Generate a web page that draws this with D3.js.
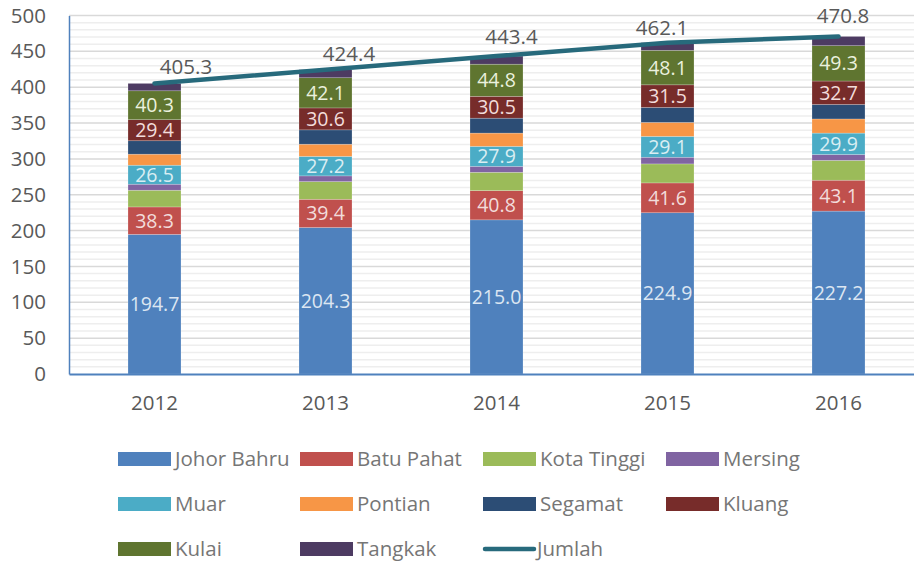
<!DOCTYPE html>
<html>
<head>
<meta charset="utf-8">
<script src="https://cdn.jsdelivr.net/npm/d3@7"></script>
<style>
  html, body { margin: 0; padding: 0; background: #fff; }
  svg { display: block; font-family: "Open Sans", "DejaVu Sans", sans-serif; }
</style>
</head>
<body>
<svg id="chart" width="914" height="563"></svg>
<script>
// ---- data ----
const years = ["2012", "2013", "2014", "2015", "2016"];
const seriesNames = ["Johor Bahru", "Batu Pahat", "Kota Tinggi", "Mersing", "Muar", "Pontian", "Segamat", "Kluang", "Kulai", "Tangkak"];
const johorBahru = [194.7, 204.3, 215.0, 224.9, 227.2];
const batuPahat  = [38.3, 39.4, 40.8, 41.6, 43.1];
const kotaTinggi = [23.3, 24.6, 25.5, 26.5, 27.6];
const mersing    = [8.4, 8.0, 8.3, 9.3, 8.2];
const muar       = [26.5, 27.2, 27.9, 29.1, 29.9];
const pontian    = [15.4, 17.0, 18.5, 19.5, 19.7];
const segamat    = [18.7, 20.0, 20.8, 20.9, 20.2];
const kluang     = [29.4, 30.6, 30.5, 31.5, 32.7];
const kulai      = [40.3, 42.1, 44.8, 48.1, 49.3];
const tangkak    = [10.3, 11.2, 11.3, 10.7, 12.9];
const jumlah     = [405.3, 424.4, 443.4, 462.1, 470.8];
const yTicks     = [0, 50, 100, 150, 200, 250, 300, 350, 400, 450, 500];
const labeledSeries = ["Johor Bahru", "Batu Pahat", "Muar", "Kluang", "Kulai"];

// ---- styles ----
const colors = {
  "Johor Bahru": "#4f81bd", "Batu Pahat": "#c0504d", "Kota Tinggi": "#9bbb59", "Mersing": "#8064a2",
  "Muar": "#4bacc6", "Pontian": "#f79646", "Segamat": "#2c4d75", "Kluang": "#772c2a",
  "Kulai": "#5f7530", "Tangkak": "#4d3b62"
};
const labelColors = {
  "Johor Bahru": "#dce6f2", "Batu Pahat": "#f2dcdb", "Muar": "#daeef3", "Kluang": "#f2dcdb", "Kulai": "#ebf1de"
};
const lineColor = "#276a7c";
const totalLabelDx = [31.5, 23.5, 15, -5.5, 4.5];
const totalLabelDy = [-17, -16.5, -19.5, -15, -20.5];
const fs = 20.5;

const valuesBySeries = {
  "Johor Bahru": johorBahru, "Batu Pahat": batuPahat, "Kota Tinggi": kotaTinggi, "Mersing": mersing,
  "Muar": muar, "Pontian": pontian, "Segamat": segamat, "Kluang": kluang, "Kulai": kulai, "Tangkak": tangkak
};
const table = years.map((y, i) => {
  const row = { year: y };
  seriesNames.forEach(s => row[s] = valuesBySeries[s][i]);
  return row;
});

const svg = d3.select("#chart");
const x = d3.scaleBand().domain(years).range([69, 924]).paddingInner(0.69).paddingOuter(0.345);
const y = d3.scaleLinear().domain([0, 500]).range([374, 15.5]);

// gridlines
const g = svg.append("g");
g.selectAll("line.minor").data(d3.range(0, 501, 10).filter(v => v % 50 !== 0))
  .join("line").attr("class", "minor")
  .attr("x1", 69).attr("x2", 914).attr("y1", d => y(d)).attr("y2", d => y(d))
  .attr("stroke", "#eeeeee").attr("stroke-width", 1.5);
g.selectAll("line.major").data(yTicks.filter(v => v > 0))
  .join("line").attr("class", "major")
  .attr("x1", 69).attr("x2", 914).attr("y1", d => y(d)).attr("y2", d => y(d))
  .attr("stroke", "#d9d9d9").attr("stroke-width", 1.5);

// stacked bars
const stack = d3.stack().keys(seriesNames)(table);
const layers = svg.append("g").selectAll("g").data(stack).join("g")
  .attr("fill", d => colors[d.key]);
layers.selectAll("rect").data(d => d.map(p => Object.assign(p, { key: d.key })))
  .join("rect")
  .attr("x", d => x(d.data.year))
  .attr("width", x.bandwidth())
  .attr("y", d => y(d[1]))
  .attr("height", d => y(d[0]) - y(d[1]))
  .attr("stroke", "rgba(255,255,255,0.35)").attr("stroke-width", 0.6);

// bar labels
const lbl = svg.append("g").attr("font-size", 19.5).attr("text-anchor", "middle");
stack.filter(s => labeledSeries.includes(s.key)).forEach(s => {
  lbl.selectAll(null).data(s).join("text")
    .attr("x", d => x(d.data.year) + x.bandwidth() / 2)
    .attr("y", d => (y(d[0]) + y(d[1])) / 2)
    .attr("dy", "0.36em")
    .attr("fill", labelColors[s.key])
    .text(d => (d[1] - d[0]).toFixed(1));
});

// axes
const axisColor = "#4f81bd";
const yAxis = svg.append("g").attr("transform", "translate(69,0)")
  .call(d3.axisLeft(y).tickValues(yTicks).tickSize(0).tickPadding(23));
yAxis.select(".domain").attr("stroke", axisColor).attr("stroke-width", 1.5);
yAxis.selectAll("text").attr("font-size", fs).attr("fill", "#595959").attr("font-family", "Open Sans");

const xAxis = svg.append("g").attr("transform", "translate(0,374)")
  .call(d3.axisBottom(x).tickSize(0).tickPadding(21));
xAxis.select(".domain").attr("stroke", axisColor).attr("stroke-width", 2);
xAxis.selectAll("text").attr("font-size", fs).attr("fill", "#595959").attr("font-family", "Open Sans");

// total line
const cx = d => x(d) + x.bandwidth() / 2;
svg.append("path")
  .datum(jumlah)
  .attr("d", d3.line().x((d, i) => cx(years[i])).y(d => y(d)))
  .attr("fill", "none").attr("stroke", lineColor).attr("stroke-width", 4.5)
  .attr("stroke-linecap", "round").attr("stroke-linejoin", "round");
svg.append("g").selectAll("text").data(jumlah).join("text")
  .attr("x", (d, i) => cx(years[i]) + totalLabelDx[i])
  .attr("y", (d, i) => y(d) + totalLabelDy[i])
  .attr("dy", "0.36em")
  .attr("text-anchor", "middle").attr("font-size", fs).attr("fill", "#595959")
  .text(d => d.toFixed(1));

// legend
const legendItems = seriesNames.map(s => ({ name: s, type: "rect", color: colors[s] }))
  .concat([{ name: "Jumlah", type: "line", color: lineColor }]);
const colX = [118, 300, 483, 666];
const rowY = [459, 504, 549];
const leg = svg.append("g").selectAll("g").data(legendItems).join("g")
  .attr("transform", (d, i) => `translate(${colX[i % 4]},${rowY[Math.floor(i / 4)]})`);
leg.filter(d => d.type === "rect").append("rect")
  .attr("x", 0).attr("y", -7).attr("width", 53).attr("height", 14).attr("fill", d => d.color);
leg.filter(d => d.type === "line").append("line")
  .attr("x1", 2).attr("x2", 51).attr("y1", 0).attr("y2", 0)
  .attr("stroke", d => d.color).attr("stroke-width", 4.5).attr("stroke-linecap", "round");
leg.append("text")
  .attr("x", d => d.type === "line" ? 54 : 57).attr("y", 0).attr("dy", "0.36em")
  .attr("font-size", fs).attr("fill", "#767676")
  .text(d => d.name);
</script>
</body>
</html>
